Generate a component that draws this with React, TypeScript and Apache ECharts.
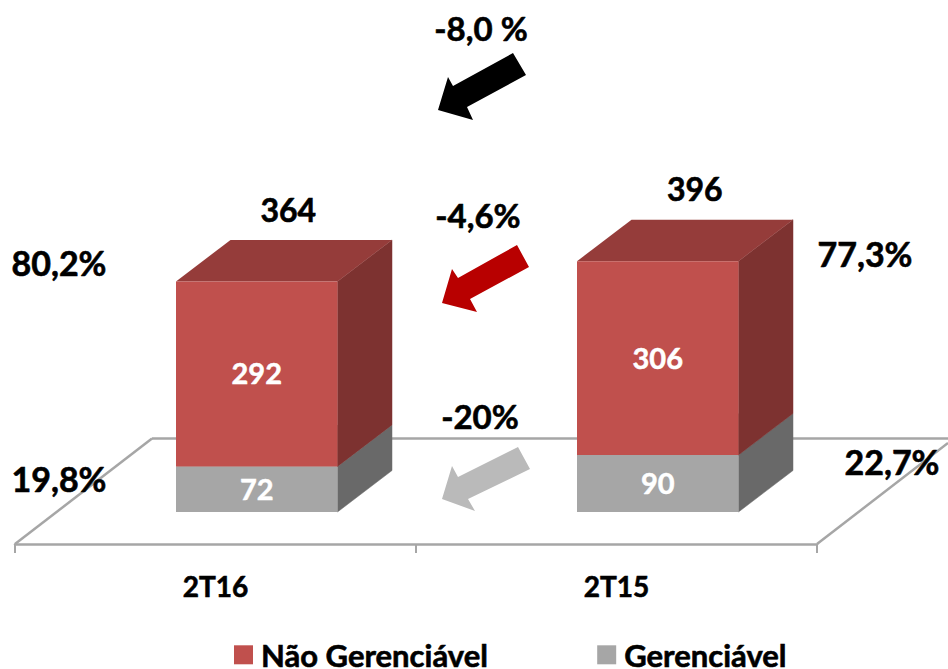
import React, { useEffect, useRef } from "react";
import * as echarts from "echarts";

const categories = ["2T16", "2T15"];
const naoGerenciavel = [292, 306];
const gerenciavel = [72, 90];
const totals = [364, 396];
const FONT = "Lato, Carlito, sans-serif";

const shareLabels = [
  { text: "80,2%", x: 59, y: 262 },
  { text: "77,3%", x: 865, y: 253 },
  { text: "19,8%", x: 59, y: 478 },
  { text: "22,7%", x: 892, y: 461 },
];
const changeLabels = [
  { text: "-8,0 %", x: 481, y: 28 },
  { text: "-4,6%", x: 478, y: 215 },
  { text: "-20%", x: 480, y: 416 },
];
const arrows = [
  { color: "#000000", points: [[513, 53], [526, 75], [467, 107], [473, 120], [438, 110], [448, 77], [453, 86]] },
  { color: "#B80000", points: [[517, 245], [529, 267], [470, 299], [477, 312], [442, 303], [452, 269], [458, 278]] },
  { color: "#BABABA", points: [[518, 447], [530, 469], [468, 499], [475, 511], [442, 499], [452, 466], [458, 477]] },
];

const BAR_LEFT = -39.5;
const BAR_WIDTH = 161.5;
const DEPTH_X = 54.5;
const DEPTH_Y = -41.5;
const TOTAL_OFFSET_X = [31.5, 37];
const TOTAL_OFFSET_Y = [-72, -73];
const HEAVY = { stroke: "#000000", lineWidth: 0.6 };

function boxRenderer(front: string, top: string, side: string, showTotal: boolean) {
  return (params: any, api: any) => {
    const i = api.value(0);
    const start = api.value(1);
    const end = api.value(2);
    const c0 = api.coord([i, start]);
    const c1 = api.coord([i, end]);
    const x0 = c0[0] + BAR_LEFT;
    const x1 = x0 + BAR_WIDTH;
    const yb = c0[1];
    const yt = c1[1];
    const children: any[] = [
      { type: "polygon", shape: { points: [[x1, yb], [x1 + DEPTH_X, yb + DEPTH_Y], [x1 + DEPTH_X, yt + DEPTH_Y], [x1, yt]] }, style: { fill: side, stroke: side, lineWidth: 0.5 } },
      { type: "polygon", shape: { points: [[x0, yt], [x1, yt], [x1 + DEPTH_X, yt + DEPTH_Y], [x0 + DEPTH_X, yt + DEPTH_Y]] }, style: { fill: top } },
      { type: "rect", shape: { x: x0, y: yt, width: BAR_WIDTH, height: yb - yt }, style: { fill: front } },
      {
        type: "text",
        style: {
          text: String(end - start),
          x: (x0 + x1) / 2,
          y: (yb + yt) / 2 - 1,
          align: "center",
          verticalAlign: "middle",
          font: `bold 29px ${FONT}`,
          fill: "#FFFFFF",
          stroke: "#FFFFFF",
          lineWidth: 0.5,
        },
      },
    ];
    if (showTotal) {
      children.push({
        type: "text",
        style: {
          text: String(totals[i]),
          x: (x0 + x1) / 2 + TOTAL_OFFSET_X[i],
          y: yt + TOTAL_OFFSET_Y[i],
          align: "center",
          verticalAlign: "middle",
          font: `bold 32px ${FONT}`,
          fill: "#000000",
          ...HEAVY,
        },
      });
    }
    return { type: "group", children };
  };
}

export default function App() {
  const ref = useRef<HTMLDivElement>(null);
  useEffect(() => {
    const chart = echarts.init(ref.current!, undefined, { renderer: "svg" });
    const lineStyle = { stroke: "#A6A6A6", lineWidth: 2.5 };
    const textEl = (l: { text: string; x: number; y: number }, size: number) => ({
      type: "text",
      z: 20,
      style: { text: l.text, x: l.x, y: l.y, align: "center", verticalAlign: "middle", font: `bold ${size}px ${FONT}`, fill: "#000000", ...HEAVY },
    });
    chart.setOption({
      animation: false,
      backgroundColor: "#FFFFFF",
      grid: { left: 15, width: 802, top: 132, height: 380 },
      xAxis: {
        type: "category",
        data: categories,
        offset: 32,
        axisLine: { onZero: false, lineStyle: { color: "#A6A6A6", width: 2.5 } },
        axisTick: { show: true, length: 9, lineStyle: { color: "#A6A6A6", width: 2 } },
        axisLabel: {
          color: "#000000",
          fontFamily: FONT,
          fontWeight: "bold",
          fontSize: 28,
          margin: 28,
          textBorderColor: "#000000",
          textBorderWidth: 0.6,
        },
      },
      yAxis: { type: "value", min: 0, max: 600, show: false, splitLine: { show: false } },
      legend: {
        left: 234,
        top: 639,
        padding: 0,
        icon: "rect",
        itemWidth: 19,
        itemHeight: 19,
        itemGap: 109,
        textStyle: {
          fontFamily: FONT,
          fontWeight: "bold",
          fontSize: 31,
          color: "#000000",
          padding: [0, 0, 4, 3],
          textBorderColor: "#000000",
          textBorderWidth: 0.6,
        },
        data: ["Não Gerenciável", "Gerenciável"],
      },
      graphic: [
        { type: "line", z: 0, shape: { x1: 152, y1: 438.5, x2: 948, y2: 438.5 }, style: lineStyle },
        { type: "line", z: 0, shape: { x1: 15, y1: 544, x2: 152, y2: 438.5 }, style: lineStyle },
        { type: "line", z: 0, shape: { x1: 817, y1: 544, x2: 948, y2: 443 }, style: lineStyle },
        ...arrows.map((a) => ({ type: "polygon", z: 20, shape: { points: a.points }, style: { fill: a.color } })),
        ...shareLabels.map((l) => textEl(l, 34)),
        ...changeLabels.map((l) => textEl(l, 33)),
      ],
      series: [
        {
          type: "custom",
          name: "Gerenciável",
          z: 5,
          coordinateSystem: "cartesian2d",
          itemStyle: { color: "#A6A6A6" },
          encode: { x: 0, y: [1, 2] },
          data: categories.map((_, i) => [i, 0, gerenciavel[i]]),
          renderItem: boxRenderer("#A6A6A6", "#8A8A8A", "#696969", false),
        },
        {
          type: "custom",
          name: "Não Gerenciável",
          z: 6,
          coordinateSystem: "cartesian2d",
          itemStyle: { color: "#C0504D" },
          encode: { x: 0, y: [1, 2] },
          data: categories.map((_, i) => [i, gerenciavel[i], gerenciavel[i] + naoGerenciavel[i]]),
          renderItem: boxRenderer("#C0504D", "#953C3A", "#7D3230", true),
        },
      ],
    });
    return () => chart.dispose();
  }, []);
  return <div ref={ref} style={{ position: "fixed", left: 0, top: 0, width: 948, height: 669 }} />;
}
